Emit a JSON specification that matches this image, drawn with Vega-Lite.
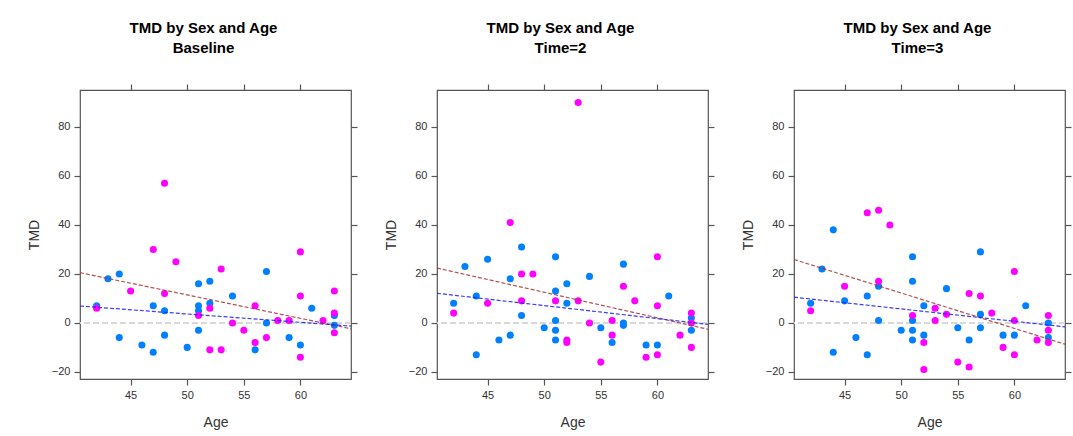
{
  "$schema": "https://vega.github.io/schema/vega-lite/v6.json",
  "background": "white",
  "padding": {"left": 26, "top": 20, "right": 2, "bottom": 2},
  "spacing": 24,
  "config": {
    "view": {"stroke": "#555555", "strokeWidth": 1.2},
    "axis": {"domain": false, "grid": false, "tickColor": "#555555", "tickSize": 6, "tickWidth": 1.2, "labelFont": "Liberation Sans", "labelFontSize": 11, "labelColor": "#333333", "labelPadding": 4, "titleFont": "Liberation Sans", "titleFontSize": 14, "titleFontWeight": "normal", "titleColor": "#333333"},
    "title": {"font": "Liberation Sans", "fontSize": 15, "fontWeight": "bold", "color": "#000000", "anchor": "middle", "frame": "group", "dx": -12, "offset": 27, "lineHeight": 20}
  },
  "datasets": {
    "pts": [
      {"t": "Baseline", "sex": "M", "age": 42, "tmd": 7},
      {"t": "Baseline", "sex": "M", "age": 43, "tmd": 18},
      {"t": "Baseline", "sex": "M", "age": 44, "tmd": 20},
      {"t": "Baseline", "sex": "M", "age": 44, "tmd": -6},
      {"t": "Baseline", "sex": "M", "age": 46, "tmd": -9},
      {"t": "Baseline", "sex": "M", "age": 47, "tmd": 7},
      {"t": "Baseline", "sex": "M", "age": 47, "tmd": -12},
      {"t": "Baseline", "sex": "M", "age": 48, "tmd": 5},
      {"t": "Baseline", "sex": "M", "age": 48, "tmd": -5},
      {"t": "Baseline", "sex": "M", "age": 50, "tmd": -10},
      {"t": "Baseline", "sex": "M", "age": 51, "tmd": 16},
      {"t": "Baseline", "sex": "M", "age": 51, "tmd": 7},
      {"t": "Baseline", "sex": "M", "age": 51, "tmd": 5},
      {"t": "Baseline", "sex": "M", "age": 51, "tmd": -3},
      {"t": "Baseline", "sex": "M", "age": 52, "tmd": 17},
      {"t": "Baseline", "sex": "M", "age": 52, "tmd": 8},
      {"t": "Baseline", "sex": "M", "age": 54, "tmd": 11},
      {"t": "Baseline", "sex": "M", "age": 56, "tmd": -11},
      {"t": "Baseline", "sex": "M", "age": 57, "tmd": 21},
      {"t": "Baseline", "sex": "M", "age": 57, "tmd": 0},
      {"t": "Baseline", "sex": "M", "age": 59, "tmd": -6},
      {"t": "Baseline", "sex": "M", "age": 60, "tmd": -9},
      {"t": "Baseline", "sex": "M", "age": 61, "tmd": 6},
      {"t": "Baseline", "sex": "M", "age": 63, "tmd": 3},
      {"t": "Baseline", "sex": "M", "age": 63, "tmd": -1},
      {"t": "Baseline", "sex": "F", "age": 42, "tmd": 6},
      {"t": "Baseline", "sex": "F", "age": 45, "tmd": 13},
      {"t": "Baseline", "sex": "F", "age": 47, "tmd": 30},
      {"t": "Baseline", "sex": "F", "age": 48, "tmd": 57},
      {"t": "Baseline", "sex": "F", "age": 48, "tmd": 12},
      {"t": "Baseline", "sex": "F", "age": 49, "tmd": 25},
      {"t": "Baseline", "sex": "F", "age": 51, "tmd": 3},
      {"t": "Baseline", "sex": "F", "age": 52, "tmd": 6},
      {"t": "Baseline", "sex": "F", "age": 52, "tmd": -11},
      {"t": "Baseline", "sex": "F", "age": 53, "tmd": 22},
      {"t": "Baseline", "sex": "F", "age": 53, "tmd": -11},
      {"t": "Baseline", "sex": "F", "age": 54, "tmd": 0},
      {"t": "Baseline", "sex": "F", "age": 55, "tmd": -3},
      {"t": "Baseline", "sex": "F", "age": 56, "tmd": 7},
      {"t": "Baseline", "sex": "F", "age": 56, "tmd": -8},
      {"t": "Baseline", "sex": "F", "age": 57, "tmd": -6},
      {"t": "Baseline", "sex": "F", "age": 58, "tmd": 1},
      {"t": "Baseline", "sex": "F", "age": 59, "tmd": 1},
      {"t": "Baseline", "sex": "F", "age": 60, "tmd": 29},
      {"t": "Baseline", "sex": "F", "age": 60, "tmd": 11},
      {"t": "Baseline", "sex": "F", "age": 60, "tmd": -14},
      {"t": "Baseline", "sex": "F", "age": 62, "tmd": 1},
      {"t": "Baseline", "sex": "F", "age": 63, "tmd": 13},
      {"t": "Baseline", "sex": "F", "age": 63, "tmd": 4},
      {"t": "Baseline", "sex": "F", "age": 63, "tmd": -4},
      {"t": "Time=2", "sex": "M", "age": 42, "tmd": 8},
      {"t": "Time=2", "sex": "M", "age": 43, "tmd": 23},
      {"t": "Time=2", "sex": "M", "age": 44, "tmd": 11},
      {"t": "Time=2", "sex": "M", "age": 44, "tmd": -13},
      {"t": "Time=2", "sex": "M", "age": 45, "tmd": 26},
      {"t": "Time=2", "sex": "M", "age": 46, "tmd": -7},
      {"t": "Time=2", "sex": "M", "age": 47, "tmd": 18},
      {"t": "Time=2", "sex": "M", "age": 47, "tmd": -5},
      {"t": "Time=2", "sex": "M", "age": 48, "tmd": 31},
      {"t": "Time=2", "sex": "M", "age": 48, "tmd": 3},
      {"t": "Time=2", "sex": "M", "age": 50, "tmd": -2},
      {"t": "Time=2", "sex": "M", "age": 51, "tmd": 27},
      {"t": "Time=2", "sex": "M", "age": 51, "tmd": 13},
      {"t": "Time=2", "sex": "M", "age": 51, "tmd": 1},
      {"t": "Time=2", "sex": "M", "age": 51, "tmd": -3},
      {"t": "Time=2", "sex": "M", "age": 51, "tmd": -7},
      {"t": "Time=2", "sex": "M", "age": 52, "tmd": 16},
      {"t": "Time=2", "sex": "M", "age": 52, "tmd": 8},
      {"t": "Time=2", "sex": "M", "age": 54, "tmd": 19},
      {"t": "Time=2", "sex": "M", "age": 55, "tmd": -2},
      {"t": "Time=2", "sex": "M", "age": 56, "tmd": -8},
      {"t": "Time=2", "sex": "M", "age": 57, "tmd": 24},
      {"t": "Time=2", "sex": "M", "age": 57, "tmd": 0},
      {"t": "Time=2", "sex": "M", "age": 57, "tmd": -1},
      {"t": "Time=2", "sex": "M", "age": 59, "tmd": -9},
      {"t": "Time=2", "sex": "M", "age": 60, "tmd": -9},
      {"t": "Time=2", "sex": "M", "age": 61, "tmd": 11},
      {"t": "Time=2", "sex": "M", "age": 63, "tmd": 2},
      {"t": "Time=2", "sex": "M", "age": 63, "tmd": -3},
      {"t": "Time=2", "sex": "F", "age": 42, "tmd": 4},
      {"t": "Time=2", "sex": "F", "age": 45, "tmd": 8},
      {"t": "Time=2", "sex": "F", "age": 47, "tmd": 41},
      {"t": "Time=2", "sex": "F", "age": 48, "tmd": 20},
      {"t": "Time=2", "sex": "F", "age": 48, "tmd": 9},
      {"t": "Time=2", "sex": "F", "age": 49, "tmd": 20},
      {"t": "Time=2", "sex": "F", "age": 51, "tmd": 9},
      {"t": "Time=2", "sex": "F", "age": 52, "tmd": -7},
      {"t": "Time=2", "sex": "F", "age": 52, "tmd": -8},
      {"t": "Time=2", "sex": "F", "age": 53, "tmd": 90},
      {"t": "Time=2", "sex": "F", "age": 53, "tmd": 9},
      {"t": "Time=2", "sex": "F", "age": 54, "tmd": 0},
      {"t": "Time=2", "sex": "F", "age": 55, "tmd": -16},
      {"t": "Time=2", "sex": "F", "age": 56, "tmd": 1},
      {"t": "Time=2", "sex": "F", "age": 56, "tmd": -5},
      {"t": "Time=2", "sex": "F", "age": 57, "tmd": 15},
      {"t": "Time=2", "sex": "F", "age": 58, "tmd": 9},
      {"t": "Time=2", "sex": "F", "age": 59, "tmd": -14},
      {"t": "Time=2", "sex": "F", "age": 60, "tmd": 27},
      {"t": "Time=2", "sex": "F", "age": 60, "tmd": 7},
      {"t": "Time=2", "sex": "F", "age": 60, "tmd": -13},
      {"t": "Time=2", "sex": "F", "age": 62, "tmd": -5},
      {"t": "Time=2", "sex": "F", "age": 63, "tmd": 4},
      {"t": "Time=2", "sex": "F", "age": 63, "tmd": 0},
      {"t": "Time=2", "sex": "F", "age": 63, "tmd": -10},
      {"t": "Time=3", "sex": "M", "age": 42, "tmd": 8},
      {"t": "Time=3", "sex": "M", "age": 43, "tmd": 22},
      {"t": "Time=3", "sex": "M", "age": 44, "tmd": 38},
      {"t": "Time=3", "sex": "M", "age": 44, "tmd": -12},
      {"t": "Time=3", "sex": "M", "age": 45, "tmd": 9},
      {"t": "Time=3", "sex": "M", "age": 46, "tmd": -6},
      {"t": "Time=3", "sex": "M", "age": 47, "tmd": 11},
      {"t": "Time=3", "sex": "M", "age": 47, "tmd": -13},
      {"t": "Time=3", "sex": "M", "age": 48, "tmd": 15},
      {"t": "Time=3", "sex": "M", "age": 48, "tmd": 1},
      {"t": "Time=3", "sex": "M", "age": 50, "tmd": -3},
      {"t": "Time=3", "sex": "M", "age": 51, "tmd": 27},
      {"t": "Time=3", "sex": "M", "age": 51, "tmd": 17},
      {"t": "Time=3", "sex": "M", "age": 51, "tmd": 1},
      {"t": "Time=3", "sex": "M", "age": 51, "tmd": -3},
      {"t": "Time=3", "sex": "M", "age": 51, "tmd": -7},
      {"t": "Time=3", "sex": "M", "age": 52, "tmd": 7},
      {"t": "Time=3", "sex": "M", "age": 52, "tmd": -5},
      {"t": "Time=3", "sex": "M", "age": 54, "tmd": 14},
      {"t": "Time=3", "sex": "M", "age": 55, "tmd": -2},
      {"t": "Time=3", "sex": "M", "age": 56, "tmd": -7},
      {"t": "Time=3", "sex": "M", "age": 57, "tmd": 29},
      {"t": "Time=3", "sex": "M", "age": 57, "tmd": 3.5},
      {"t": "Time=3", "sex": "M", "age": 57, "tmd": -2},
      {"t": "Time=3", "sex": "M", "age": 59, "tmd": -5},
      {"t": "Time=3", "sex": "M", "age": 60, "tmd": -5},
      {"t": "Time=3", "sex": "M", "age": 61, "tmd": 7},
      {"t": "Time=3", "sex": "M", "age": 63, "tmd": 0},
      {"t": "Time=3", "sex": "M", "age": 63, "tmd": -6},
      {"t": "Time=3", "sex": "F", "age": 42, "tmd": 5},
      {"t": "Time=3", "sex": "F", "age": 45, "tmd": 15},
      {"t": "Time=3", "sex": "F", "age": 47, "tmd": 45},
      {"t": "Time=3", "sex": "F", "age": 48, "tmd": 46},
      {"t": "Time=3", "sex": "F", "age": 48, "tmd": 17},
      {"t": "Time=3", "sex": "F", "age": 49, "tmd": 40},
      {"t": "Time=3", "sex": "F", "age": 51, "tmd": 3},
      {"t": "Time=3", "sex": "F", "age": 52, "tmd": -8},
      {"t": "Time=3", "sex": "F", "age": 52, "tmd": -19},
      {"t": "Time=3", "sex": "F", "age": 53, "tmd": 6},
      {"t": "Time=3", "sex": "F", "age": 53, "tmd": 1},
      {"t": "Time=3", "sex": "F", "age": 54, "tmd": 3.5},
      {"t": "Time=3", "sex": "F", "age": 55, "tmd": -16},
      {"t": "Time=3", "sex": "F", "age": 56, "tmd": 12},
      {"t": "Time=3", "sex": "F", "age": 56, "tmd": -18},
      {"t": "Time=3", "sex": "F", "age": 57, "tmd": 11},
      {"t": "Time=3", "sex": "F", "age": 58, "tmd": 4},
      {"t": "Time=3", "sex": "F", "age": 59, "tmd": -10},
      {"t": "Time=3", "sex": "F", "age": 60, "tmd": 21},
      {"t": "Time=3", "sex": "F", "age": 60, "tmd": 1},
      {"t": "Time=3", "sex": "F", "age": 60, "tmd": -13},
      {"t": "Time=3", "sex": "F", "age": 62, "tmd": -7},
      {"t": "Time=3", "sex": "F", "age": 63, "tmd": 3},
      {"t": "Time=3", "sex": "F", "age": 63, "tmd": -3},
      {"t": "Time=3", "sex": "F", "age": 63, "tmd": -8}
    ],
    "fits": [
      {"t": "Baseline", "sex": "F", "age": 40.53, "tmd": 20.5},
      {"t": "Baseline", "sex": "F", "age": 64.47, "tmd": -2.4},
      {"t": "Baseline", "sex": "M", "age": 40.53, "tmd": 6.9},
      {"t": "Baseline", "sex": "M", "age": 64.47, "tmd": -1.3},
      {"t": "Time=2", "sex": "F", "age": 40.53, "tmd": 22.4},
      {"t": "Time=2", "sex": "F", "age": 64.47, "tmd": -2.6},
      {"t": "Time=2", "sex": "M", "age": 40.53, "tmd": 12.1},
      {"t": "Time=2", "sex": "M", "age": 64.47, "tmd": -0.6},
      {"t": "Time=3", "sex": "F", "age": 40.53, "tmd": 25.9},
      {"t": "Time=3", "sex": "F", "age": 64.47, "tmd": -8.7},
      {"t": "Time=3", "sex": "M", "age": 40.53, "tmd": 10.5},
      {"t": "Time=3", "sex": "M", "age": 64.47, "tmd": -1.6}
    ],
    "ref": [{"h": 0}]
  },
  "hconcat": [
    {
      "width": 271, "height": 289,
      "title": {"text": ["TMD by Sex and Age", "Baseline"]},
      "resolve": {"axis": {"x": "independent", "y": "independent"}},
      "layer": [
        {"data": {"name": "ref"}, "mark": {"type": "rule", "color": "#d8d8d8", "strokeDash": [6, 3], "strokeWidth": 2},
         "encoding": {"y": {"field": "h", "type": "quantitative", "axis": null, "scale": {"domain": [-22.9, 95.1], "nice": false, "zero": false}}}},
        {"data": {"name": "pts"}, "transform": [{"filter": "datum.t === 'Baseline'"}],
         "mark": {"type": "circle", "size": 50, "opacity": 1},
         "encoding": {
           "x": {"field": "age", "type": "quantitative", "title": "Age", "scale": {"domain": [40.53, 64.47], "nice": false, "zero": false}, "axis": {"values": [45, 50, 55, 60], "titlePadding": 15}},
           "y": {"field": "tmd", "type": "quantitative", "title": "TMD", "scale": {"domain": [-22.9, 95.1], "nice": false, "zero": false}, "axis": {"values": [-20, 0, 20, 40, 60, 80], "titlePadding": 10}},
           "fill": {"field": "sex", "type": "nominal", "scale": {"domain": ["F", "M"], "range": ["#ff00ff", "#0080ff"]}, "legend": null}}},
        {"data": {"name": "fits"}, "transform": [{"filter": "datum.t === 'Baseline'"}],
         "mark": {"type": "line", "strokeDash": [4, 2], "strokeWidth": 1.2, "opacity": 0.85, "clip": true},
         "encoding": {
           "x": {"field": "age", "type": "quantitative", "axis": null},
           "y": {"field": "tmd", "type": "quantitative", "axis": null},
           "stroke": {"field": "sex", "type": "nominal", "scale": {"domain": ["F", "M"], "range": ["#a83232", "#1a1aff"]}, "legend": null},
           "detail": {"field": "sex"}}},
        {"data": {"name": "pts"}, "transform": [{"filter": "datum.t === 'Baseline'"}],
         "mark": {"type": "point", "opacity": 0},
         "encoding": {
           "x": {"field": "age", "type": "quantitative", "axis": {"orient": "top", "labels": false, "title": null, "values": [45, 50, 55, 60]}},
           "y": {"field": "tmd", "type": "quantitative", "axis": {"orient": "right", "labels": false, "title": null, "values": [-20, 0, 20, 40, 60, 80]}}}}
      ]
    },
    {
      "width": 271, "height": 289,
      "title": {"text": ["TMD by Sex and Age", "Time=2"]},
      "resolve": {"axis": {"x": "independent", "y": "independent"}},
      "layer": [
        {"data": {"name": "ref"}, "mark": {"type": "rule", "color": "#d8d8d8", "strokeDash": [6, 3], "strokeWidth": 2},
         "encoding": {"y": {"field": "h", "type": "quantitative", "axis": null, "scale": {"domain": [-22.9, 95.1], "nice": false, "zero": false}}}},
        {"data": {"name": "pts"}, "transform": [{"filter": "datum.t === 'Time=2'"}],
         "mark": {"type": "circle", "size": 50, "opacity": 1},
         "encoding": {
           "x": {"field": "age", "type": "quantitative", "title": "Age", "scale": {"domain": [40.53, 64.47], "nice": false, "zero": false}, "axis": {"values": [45, 50, 55, 60], "titlePadding": 15}},
           "y": {"field": "tmd", "type": "quantitative", "title": "TMD", "scale": {"domain": [-22.9, 95.1], "nice": false, "zero": false}, "axis": {"values": [-20, 0, 20, 40, 60, 80], "titlePadding": 10}},
           "fill": {"field": "sex", "type": "nominal", "scale": {"domain": ["F", "M"], "range": ["#ff00ff", "#0080ff"]}, "legend": null}}},
        {"data": {"name": "fits"}, "transform": [{"filter": "datum.t === 'Time=2'"}],
         "mark": {"type": "line", "strokeDash": [4, 2], "strokeWidth": 1.2, "opacity": 0.85, "clip": true},
         "encoding": {
           "x": {"field": "age", "type": "quantitative", "axis": null},
           "y": {"field": "tmd", "type": "quantitative", "axis": null},
           "stroke": {"field": "sex", "type": "nominal", "scale": {"domain": ["F", "M"], "range": ["#a83232", "#1a1aff"]}, "legend": null},
           "detail": {"field": "sex"}}},
        {"data": {"name": "pts"}, "transform": [{"filter": "datum.t === 'Time=2'"}],
         "mark": {"type": "point", "opacity": 0},
         "encoding": {
           "x": {"field": "age", "type": "quantitative", "axis": {"orient": "top", "labels": false, "title": null, "values": [45, 50, 55, 60]}},
           "y": {"field": "tmd", "type": "quantitative", "axis": {"orient": "right", "labels": false, "title": null, "values": [-20, 0, 20, 40, 60, 80]}}}}
      ]
    },
    {
      "width": 271, "height": 289,
      "title": {"text": ["TMD by Sex and Age", "Time=3"]},
      "resolve": {"axis": {"x": "independent", "y": "independent"}},
      "layer": [
        {"data": {"name": "ref"}, "mark": {"type": "rule", "color": "#d8d8d8", "strokeDash": [6, 3], "strokeWidth": 2},
         "encoding": {"y": {"field": "h", "type": "quantitative", "axis": null, "scale": {"domain": [-22.9, 95.1], "nice": false, "zero": false}}}},
        {"data": {"name": "pts"}, "transform": [{"filter": "datum.t === 'Time=3'"}],
         "mark": {"type": "circle", "size": 50, "opacity": 1},
         "encoding": {
           "x": {"field": "age", "type": "quantitative", "title": "Age", "scale": {"domain": [40.53, 64.47], "nice": false, "zero": false}, "axis": {"values": [45, 50, 55, 60], "titlePadding": 15}},
           "y": {"field": "tmd", "type": "quantitative", "title": "TMD", "scale": {"domain": [-22.9, 95.1], "nice": false, "zero": false}, "axis": {"values": [-20, 0, 20, 40, 60, 80], "titlePadding": 10}},
           "fill": {"field": "sex", "type": "nominal", "scale": {"domain": ["F", "M"], "range": ["#ff00ff", "#0080ff"]}, "legend": null}}},
        {"data": {"name": "fits"}, "transform": [{"filter": "datum.t === 'Time=3'"}],
         "mark": {"type": "line", "strokeDash": [4, 2], "strokeWidth": 1.2, "opacity": 0.85, "clip": true},
         "encoding": {
           "x": {"field": "age", "type": "quantitative", "axis": null},
           "y": {"field": "tmd", "type": "quantitative", "axis": null},
           "stroke": {"field": "sex", "type": "nominal", "scale": {"domain": ["F", "M"], "range": ["#a83232", "#1a1aff"]}, "legend": null},
           "detail": {"field": "sex"}}},
        {"data": {"name": "pts"}, "transform": [{"filter": "datum.t === 'Time=3'"}],
         "mark": {"type": "point", "opacity": 0},
         "encoding": {
           "x": {"field": "age", "type": "quantitative", "axis": {"orient": "top", "labels": false, "title": null, "values": [45, 50, 55, 60]}},
           "y": {"field": "tmd", "type": "quantitative", "axis": {"orient": "right", "labels": false, "title": null, "values": [-20, 0, 20, 40, 60, 80]}}}}
      ]
    }
  ]
}
